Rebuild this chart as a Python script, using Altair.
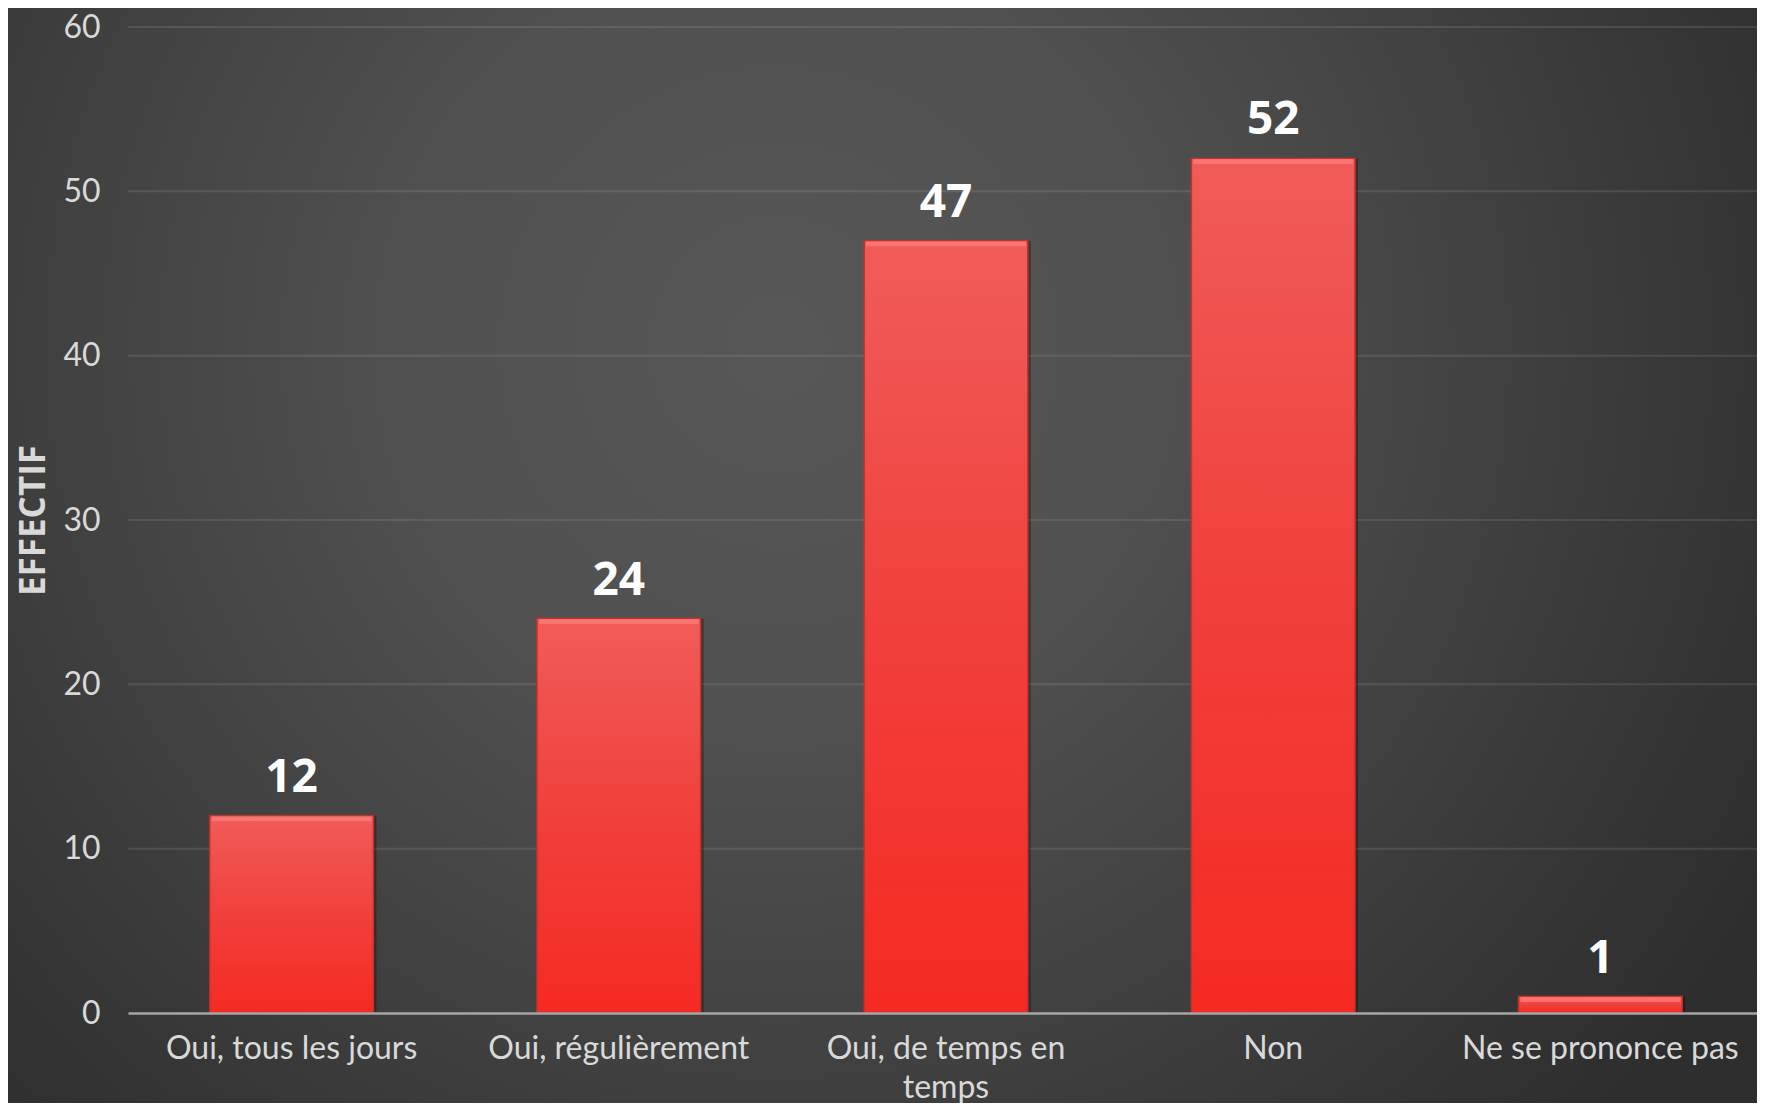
import altair as alt
import pandas as pd

categories = ["Oui, tous les jours", "Oui, régulièrement", "Oui, de temps en temps", "Non", "Ne se prononce pas"]
values = [12, 24, 47, 52, 1]
y_ticks = [0, 10, 20, 30, 40, 50, 60]

W, H = 1629, 986
PAD_L, PAD_T, PAD_R, PAD_B = 120, 19, 0, 90

df = pd.DataFrame({"cat": categories, "val": values})
grid_df = pd.DataFrame({"val": [t for t in y_ticks if t > 0]})

y_scale = alt.Scale(domain=[0, 60], nice=False)
y_axis = alt.Axis(
    values=y_ticks, grid=False, domain=False, ticks=False,
    labelFont="Lato", labelFontSize=32, labelColor="#d9d9d9", labelPadding=28,
    title="EFFECTIF", titleFont="Open Sans", titleFontWeight="bold",
    titleFontSize=35, titleColor="#d9d9d9", titlePadding=11,
    zindex=1,
)

x_enc = alt.X(
    "cat:N",
    sort=categories,
    scale=alt.Scale(paddingInner=0.5, paddingOuter=0.25, range=[0, 1636]),
    axis=alt.Axis(
        title=None, labelAngle=0, ticks=False,
        domainColor="#a6a6a6", domainWidth=2.5,
        labelFont="Lato", labelFontSize=32, labelColor="#d9d9d9",
        labelPadding=20, labelLineHeight=39, labelLimit=400,
        labelExpr="datum.label == 'Oui, de temps en temps' ? ['Oui, de temps en', 'temps'] : datum.label",
        zindex=1,
    ),
)
y_enc = alt.Y("val:Q", scale=y_scale, axis=y_axis)

bg = alt.Chart(alt.Data(values=[{"k": 1}])).mark_rect(
    fill=alt.RadialGradient(
        gradient="radial",
        x1=0.44, y1=0.38, r1=0.0,
        x2=0.44, y2=0.38, r2=1.0,
        stops=[
            alt.GradientStop(offset=0.0, color="#575757"),
            alt.GradientStop(offset=0.22, color="#505050"),
            alt.GradientStop(offset=0.36, color="#454545"),
            alt.GradientStop(offset=0.5, color="#393939"),
            alt.GradientStop(offset=0.64, color="#2e2e2e"),
            alt.GradientStop(offset=1.0, color="#2a2a2a"),
        ],
    ),
    strokeWidth=0,
).encode(
    x=alt.value(-PAD_L), x2=alt.value(W + PAD_R),
    y=alt.value(-PAD_T), y2=alt.value(H + PAD_B),
)

grid = alt.Chart(grid_df).mark_rule(color="white", opacity=0.1, strokeWidth=2).encode(
    y=alt.Y("val:Q", scale=y_scale, axis=y_axis)
)

shadow = alt.Chart(df).mark_bar(color="black", opacity=0.3, xOffset=3).encode(x=x_enc, y=y_enc)

bars = alt.Chart(df).mark_bar(
    fill=alt.LinearGradient(
        gradient="linear", x1=0, x2=0, y1=0, y2=1,
        stops=[
            alt.GradientStop(offset=0.0, color="#f05c59"),
            alt.GradientStop(offset=0.5, color="#f1403c"),
            alt.GradientStop(offset=1.0, color="#f52a22"),
        ],
    ),
    stroke="#c7302b", strokeWidth=1.5,
).encode(x=x_enc, y=y_enc)

highlight = alt.Chart(df).mark_tick(
    color="#ff8c89", opacity=0.55, thickness=5, size=160, yOffset=3
).encode(x=x_enc, y=y_enc)

labels = alt.Chart(df).mark_text(
    dy=-24, baseline="alphabetic", fontSize=46, fontWeight="bold",
    font="Open Sans", color="white",
).encode(x=x_enc, y=y_enc, text="val:Q")

chart = alt.layer(bg, grid, shadow, bars, highlight, labels).properties(
    width=W, height=H,
    autosize=alt.AutoSizeParams(type="none"),
    padding={"left": PAD_L, "top": PAD_T, "right": PAD_R, "bottom": PAD_B},
).configure(background="#2b2b2b").configure_view(stroke=None)

chart.save("out.html", embed_options={"renderer": "svg", "actions": False})
